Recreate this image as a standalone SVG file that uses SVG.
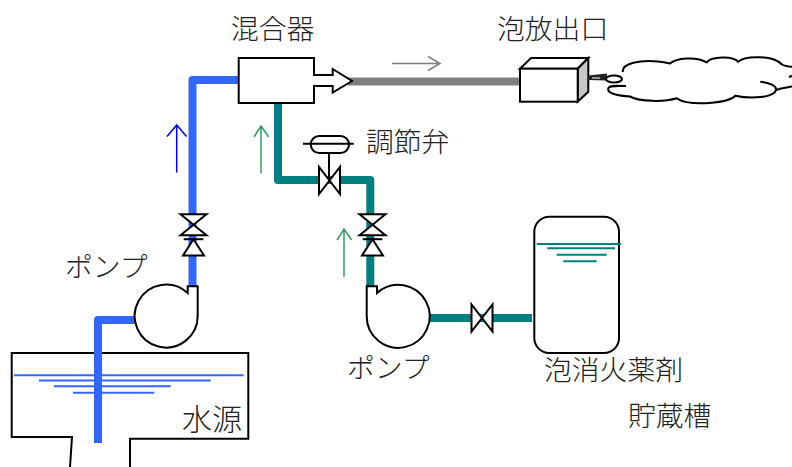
<svg xmlns="http://www.w3.org/2000/svg" width="792" height="467" viewBox="0 0 792 467">
<style>
text{font-family:"Noto Sans CJK JP","Noto Sans CJK SC",sans-serif;font-size:27.8px;font-weight:300;fill:#222}
.o{fill:#fff;stroke:#000;stroke-width:2;stroke-linejoin:miter}
.n{fill:none;stroke:#000;stroke-width:2}
.blue{fill:none;stroke:#3366ff;stroke-width:8;stroke-linejoin:round}
.teal{fill:none;stroke:#008080;stroke-width:8;stroke-linejoin:round}
.gray{fill:none;stroke:#808080;stroke-width:8}
.wb{stroke:#3366ff;stroke-width:2}
.wt{stroke:#008080;stroke-width:2}
.fb{fill:none;stroke:#0000ff;stroke-width:1.500}
.fg{fill:none;stroke:#339966;stroke-width:1.500}
.fa{fill:none;stroke:#808080;stroke-width:1.500}
</style>
<defs>
<g id="vv"><path class="o" d="M-13,-10.500H13L-13,10.500H13Z"/><path class="n" d="M-9.800,14.500H9.800"/><path class="o" d="M0,14.500L10.500,30.800H-10.500Z"/></g>
<path id="vh" class="o" d="M-10.500,-13.500V13.500L10.500,-13.500V13.500Z"/>
</defs>
<g id="connectors">
<path class="gray" d="M348,81.500H521"/>
<path class="blue" d="M238,80H192.500V287"/>
<path class="blue" d="M136,320H98V443"/>
<path class="teal" d="M278,103V180H370.300V287"/>
<path class="teal" d="M427,318H532"/>
<path class="fb" d="M176.700,172.500V125M167,136.500L176.700,125L186.500,136.500"/>
<path class="fg" d="M261,173.500V126M254,137L261,126L268.700,137"/>
<path class="fg" d="M344,276.700V229M337,240L344,229L351.700,240"/>
<path class="fa" d="M392,63.500H440M428,56.500L440,63.500L428,70.500"/>
</g>
<g id="mixer">
<path class="o" d="M238.700,58H314V75H332.700V69L352,81L332.700,92.500V86H314V103H238.700Z"/>
<text x="231" y="39">混合器</text>
</g>
<g id="discharge-outlet">
<path class="o" d="M520,68.700L531,58H588.300L577.700,68.700Z"/>
<path class="o" style="fill:#c8c8c8" d="M577.700,68.700L588.300,58V91.700L577.700,101.700Z"/>
<rect class="o" x="520" y="68.700" width="57.700" height="33"/>
<path d="M588,75.500L607,73.500V80.500L588,80Z" fill="#222"/>
<path d="M592,78H600" stroke="#fff" stroke-width="1"/>
<ellipse class="o" cx="614" cy="79" rx="8" ry="3.500" stroke-width="1.500"/>
<text x="497" y="39">泡放出口</text>
</g>
<g id="foam-cloud">
<path class="n" d="M622.700,72C622,63 640,60 658,61.500C664,62 668,63 670,63.500C676,58 696,56 706.700,62.300C711,56.500 733,55.500 738,61.700C745,55.500 773,55 782,64.500C785,66.500 789,66.500 792,66.700"/>
<path class="n" d="M760.300,81.700C769,82.500 777,86 776,90C774,98 750,99 735.300,95.700C730,103 690,107 676.700,98.300C665,102 640,102 630,96.500C620,96 606,94 608.500,88C610,85 618,86 626,86"/>
<path class="n" d="M776,90C782,88 787,87.500 792,86.500"/>
<path class="n" d="M789,77L792,75.800"/>
</g>
<g id="control-valve">
<use href="#vh" x="329.500" y="180.500"/>
<path class="n" d="M329,153V180"/>
<rect class="o" x="310.700" y="136" width="38.300" height="17" rx="8.500"/>
<path class="n" d="M303,143.700H353.700"/>
<text x="366" y="152">調節弁</text>
</g>
<g id="valve-blue"><use href="#vv" x="193.500" y="224.700"/></g>
<g id="valve-teal"><use href="#vv" x="372.500" y="224.700"/></g>
<g id="valve-tank"><use href="#vh" x="482" y="318"/></g>
<g id="pump-water">
<path class="o" d="M197.700,286.300H187.700V293A31.500,31.500 0 1 0 197.700,316Z"/>
<text x="65" y="277">ポンプ</text>
</g>
<g id="pump-foam">
<path class="o" d="M366.700,286.300H377V293A31.500,31.500 0 1 1 366.700,316Z"/>
<text x="347" y="378">ポンプ</text>
</g>
<g id="water-source">
<path class="n" d="M70,467L72,437H11.700V353H248.300V438.700H130V467"/>
<path class="wb" d="M14,375.300H243.700M39,380.500H210.700M54,386.300H170.700M73,392.700H154.300"/>
<text x="182" y="430" style="font-size:30px">水源</text>
</g>
<path class="blue" d="M98,350V443"/>
<g id="foam-tank">
<rect class="n" x="534.300" y="216.700" width="84.700" height="136.300" rx="15"/>
<path class="wt" d="M536.700,244H620.700M547.300,248.300H615M556.700,254.700H606.700M563.300,261.300H596.700"/>
<text x="544" y="380">泡消火薬剤</text>
<text x="628" y="426">貯蔵槽</text>
</g>
</svg>
